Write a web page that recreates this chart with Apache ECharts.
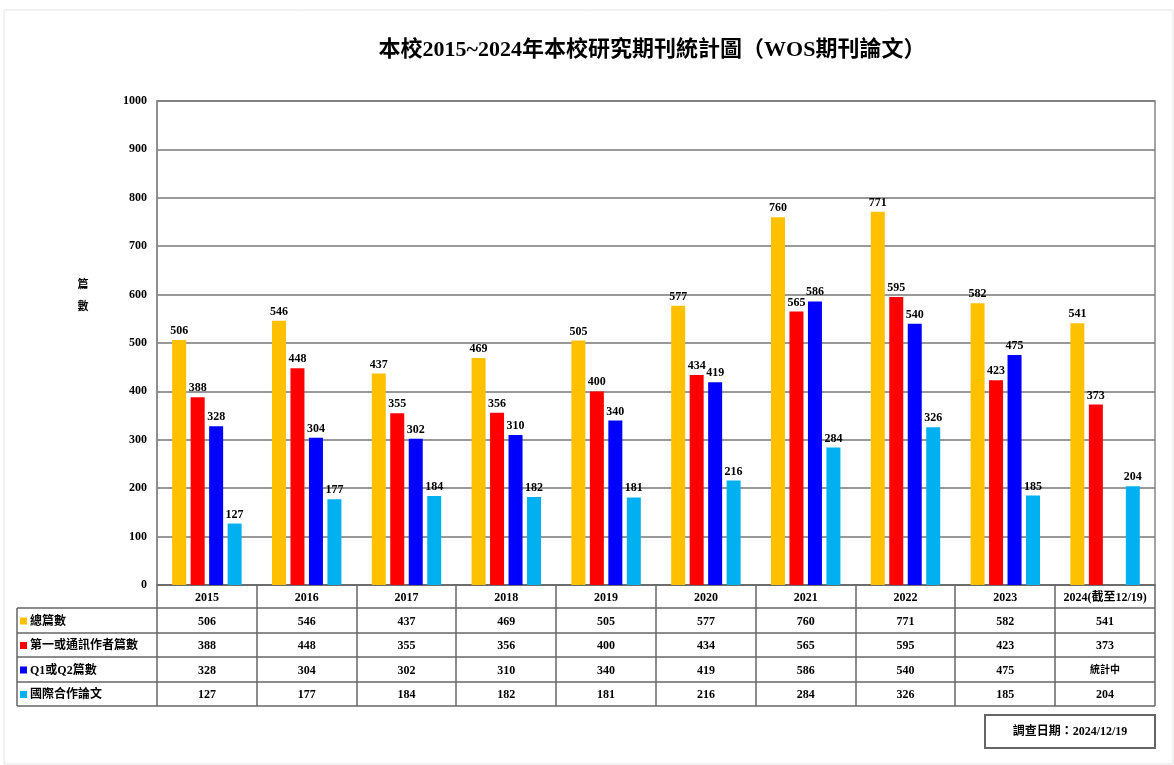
<!DOCTYPE html>
<html>
<head>
<meta charset="utf-8">
<script src="https://cdn.jsdelivr.net/npm/echarts@6/dist/echarts.min.js"></script>
<style>
  html, body { margin: 0; background: #fff; }
  #chart { width: 1174px; height: 765px; }
</style>
</head>
<body>
<div id="chart"></div>
<script>
// data
const years = ['2015', '2016', '2017', '2018', '2019', '2020', '2021', '2022', '2023', '2024(截至12/19)'];
const seriesNames = ['總篇數', '第一或通訊作者篇數', 'Q1或Q2篇數', '國際合作論文'];
const total = [506, 546, 437, 469, 505, 577, 760, 771, 582, 541];
const firstAuthor = [388, 448, 355, 356, 400, 434, 565, 595, 423, 373];
const q1q2 = [328, 304, 302, 310, 340, 419, 586, 540, 475, null];
const intl = [127, 177, 184, 182, 181, 216, 284, 326, 185, 204];
const pendingText = '統計中';
const surveyDate = '調查日期：2024/12/19';
const colors = ['#FFC000', '#FF0000', '#0000FF', '#00B0F0'];

const serif = "'Liberation Serif', 'Noto Sans CJK TC', serif";
const chart = echarts.init(document.getElementById('chart'));

// plot box
const gl = 157, gr = 1155, gt = 101, gb = 585;
const cw = (gr - gl) / years.length;
// table rows (header + 4 rows)
const rowY = [585, 608, 633, 657, 682, 706];
const lineColor = '#666';

const graphic = [];
// faint outer frame
graphic.push({ type: 'rect', shape: { x: 4, y: 10, width: 1169, height: 754 },
  style: { fill: 'none', stroke: '#e4e4e4', lineWidth: 1 }, silent: true });
// y axis name
graphic.push({ type: 'text', x: 83, y: 296,
  style: { text: '篇\n\n數', font: 'bold 11px ' + serif, fill: '#000', align: 'center', verticalAlign: 'middle', lineHeight: 11 } });

// table lines
for (let r = 1; r < rowY.length; r++) {
  graphic.push({ type: 'line', shape: { x1: 17, y1: rowY[r], x2: gr, y2: rowY[r] },
    style: { stroke: lineColor, lineWidth: 1.5 } });
}
graphic.push({ type: 'line', shape: { x1: 17, y1: rowY[1], x2: 17, y2: rowY[5] },
  style: { stroke: lineColor, lineWidth: 1.5 } });
for (let i = 0; i <= years.length; i++) {
  const x = Math.round(gl + i * cw);
  graphic.push({ type: 'line', shape: { x1: x, y1: rowY[0], x2: x, y2: rowY[5] },
    style: { stroke: lineColor, lineWidth: 1.5 } });
}
// header: years
years.forEach((y, i) => {
  graphic.push({ type: 'text', x: gl + (i + 0.5) * cw, y: (rowY[0] + rowY[1]) / 2 + 1,
    style: { text: y, font: 'bold 12px ' + serif, fill: '#000', align: 'center', verticalAlign: 'middle' } });
});
// rows
const rows = [total, firstAuthor, q1q2, intl];
rows.forEach((vals, r) => {
  const cy = (rowY[r + 1] + rowY[r + 2]) / 2 + 1;
  graphic.push({ type: 'rect', shape: { x: 20, y: cy - 4, width: 7, height: 7 }, style: { fill: colors[r] } });
  graphic.push({ type: 'text', x: 30, y: cy,
    style: { text: seriesNames[r], font: 'bold 12px ' + serif, fill: '#000', align: 'left', verticalAlign: 'middle' } });
  vals.forEach((v, i) => {
    const isPending = v == null;
    graphic.push({ type: 'text', x: gl + (i + 0.5) * cw, y: cy,
      style: { text: isPending ? pendingText : String(v),
        font: (isPending ? 'bold 10px ' : 'bold 12px ') + serif, fill: '#000', align: 'center', verticalAlign: 'middle' } });
  });
});
// survey date box
graphic.push({ type: 'rect', shape: { x: 985, y: 715, width: 170, height: 33 },
  style: { fill: '#fff', stroke: lineColor, lineWidth: 2 } });
graphic.push({ type: 'text', x: 1070, y: 732,
  style: { text: surveyDate, font: 'bold 12px ' + serif, fill: '#000', align: 'center', verticalAlign: 'middle' } });

const label = {
  show: true,
  position: 'top',
  distance: 3,
  color: '#000',
  fontWeight: 'bold',
  fontSize: 12,
  fontFamily: serif
};

const option = {
  animation: false,
  title: {
    text: '本校2015~2024年本校研究期刊統計圖（WOS期刊論文）',
    left: 647,
    top: 34,
    textAlign: 'center',
    textStyle: { fontSize: 22, fontWeight: 'bold', fontFamily: serif, color: '#000' }
  },
  grid: {
    left: gl, right: 1174 - gr, top: gt, bottom: 765 - gb,
    show: true, borderColor: '#888', borderWidth: 1.5, backgroundColor: '#fff'
  },
  xAxis: {
    type: 'category',
    data: years,
    axisLine: { lineStyle: { color: '#666', width: 1.5 } },
    axisTick: { show: false },
    axisLabel: { show: false }
  },
  yAxis: {
    type: 'value',
    min: 0,
    max: 1000,
    interval: 100,
    axisLine: { show: true, lineStyle: { color: '#888', width: 1.5 } },
    axisTick: { show: false },
    axisLabel: { color: '#000', fontWeight: 'bold', fontSize: 12, fontFamily: serif, margin: 10,
      formatter: v => String(v) },
    splitLine: { lineStyle: { color: '#777', width: 1.5 } }
  },
  series: [total, firstAuthor, q1q2, intl].map((d, k) => ({
    name: seriesNames[k],
    type: 'bar',
    data: d,
    barWidth: 14,
    barGap: '32%',
    itemStyle: { color: colors[k] },
    label: label
  })),
  graphic: graphic
};

chart.setOption(option);
</script>
</body>
</html>
